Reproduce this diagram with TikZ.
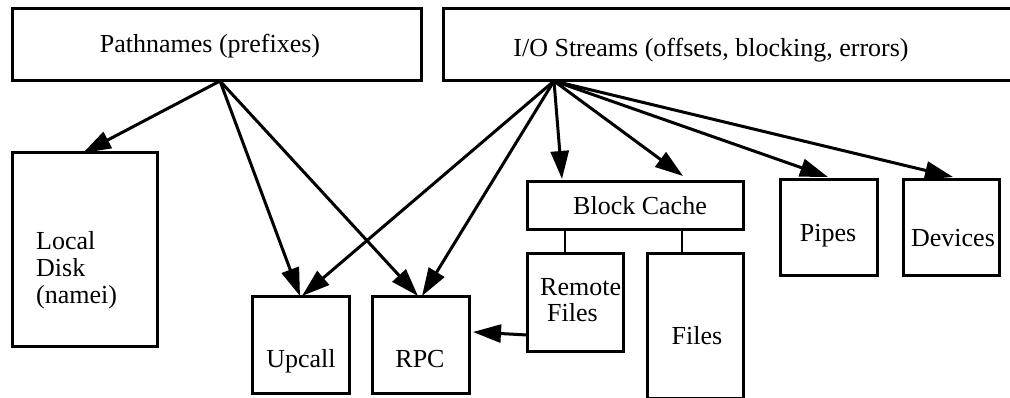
\documentclass[tikz,border=0pt]{standalone}
\usepackage{fontspec}
\setmainfont{Liberation Serif}
\usetikzlibrary{arrows.meta}
\begin{document}
\begin{tikzpicture}[x=1pt,y=-1pt,
  box/.style={draw,line width=3pt},
  lbl/.style={inner sep=0pt,anchor=base,font=\fontsize{26}{28}\selectfont},
  arr/.style={line width=3pt,-{Triangle[length=28pt,width=18pt]}},
  link/.style={line width=1.4pt}]
\useasboundingbox (0,0) rectangle (1010,398);
% boxes
\draw[box] (12,9) rectangle (421,81);
\node[lbl] (pathT) at (210,53) {Pathnames (prefixes)};
\draw[box] (443,9) rectangle (1020,81);
\node[lbl] (ioT) at (711,57) {I/O Streams (offsets, blocking, errors)};
\draw[box] (12,153) rectangle (157,346);
\node[lbl,anchor=base west] (ld1) at (36,250) {Local};
\node[lbl,anchor=base west] (ld2) at (36,277) {Disk};
\node[lbl,anchor=base west] (ld3) at (36,303) {(namei)};
\draw[box] (252,297) rectangle (349,393);
\node[lbl] (upT) at (301,367) {Upcall};
\draw[box] (372,297) rectangle (469,393);
\node[lbl] (rpcT) at (420,367) {RPC};
\draw[box] (527,182) rectangle (743,230);
\node[lbl] (bcT) at (640,215) {Block Cache};
\draw[box] (527,254) rectangle (623,351);
\node[lbl,anchor=base west] (rf1) at (540,295) {Remote};
\node[lbl,anchor=base west] (rf2) at (547,322) {Files};
\draw[box] (647,254) rectangle (743,398);
\node[lbl] (fT) at (697,344) {Files};
\draw[box] (780,180) rectangle (877,276);
\node[lbl] (piT) at (828,242) {Pipes};
\draw[box] (903,180) rectangle (999,276);
\node[lbl] (devT) at (953,247) {Devices};
% anchor points
\coordinate (pn) at (220,81);
\coordinate (io) at (554,81);
\coordinate (ldTop) at (83,153);
\coordinate (upTop1) at (300,296);
\coordinate (upTop2) at (302,296);
\coordinate (rpcTop1) at (418,296);
\coordinate (rpcTop2) at (422,296);
\coordinate (bcTop) at (562,179);
\coordinate (fileTip) at (683,176);
\coordinate (piTop) at (828,177);
\coordinate (devTop) at (953,177);
\coordinate (rfL) at (527,335);
\coordinate (rpcR) at (473,332);
\coordinate (bcB1) at (565,230);
\coordinate (rfT) at (565,254);
\coordinate (bcB2) at (682,230);
\coordinate (fT1) at (682,254);
% connectors
\draw[arr] (pn) -- (ldTop);
\draw[arr] (pn) -- (upTop1);
\draw[arr] (pn) -- (rpcTop1);
\draw[arr] (io) -- (upTop2);
\draw[arr] (io) -- (rpcTop2);
\draw[arr] (io) -- (bcTop);
\draw[arr] (io) -- (fileTip);
\draw[arr] (io) -- (piTop);
\draw[arr] (io) -- (devTop);
\draw[arr] (rfL) -- (rpcR);
\draw[link] (bcB1) -- (rfT);
\draw[link] (bcB2) -- (fT1);
\end{tikzpicture}
\end{document}
